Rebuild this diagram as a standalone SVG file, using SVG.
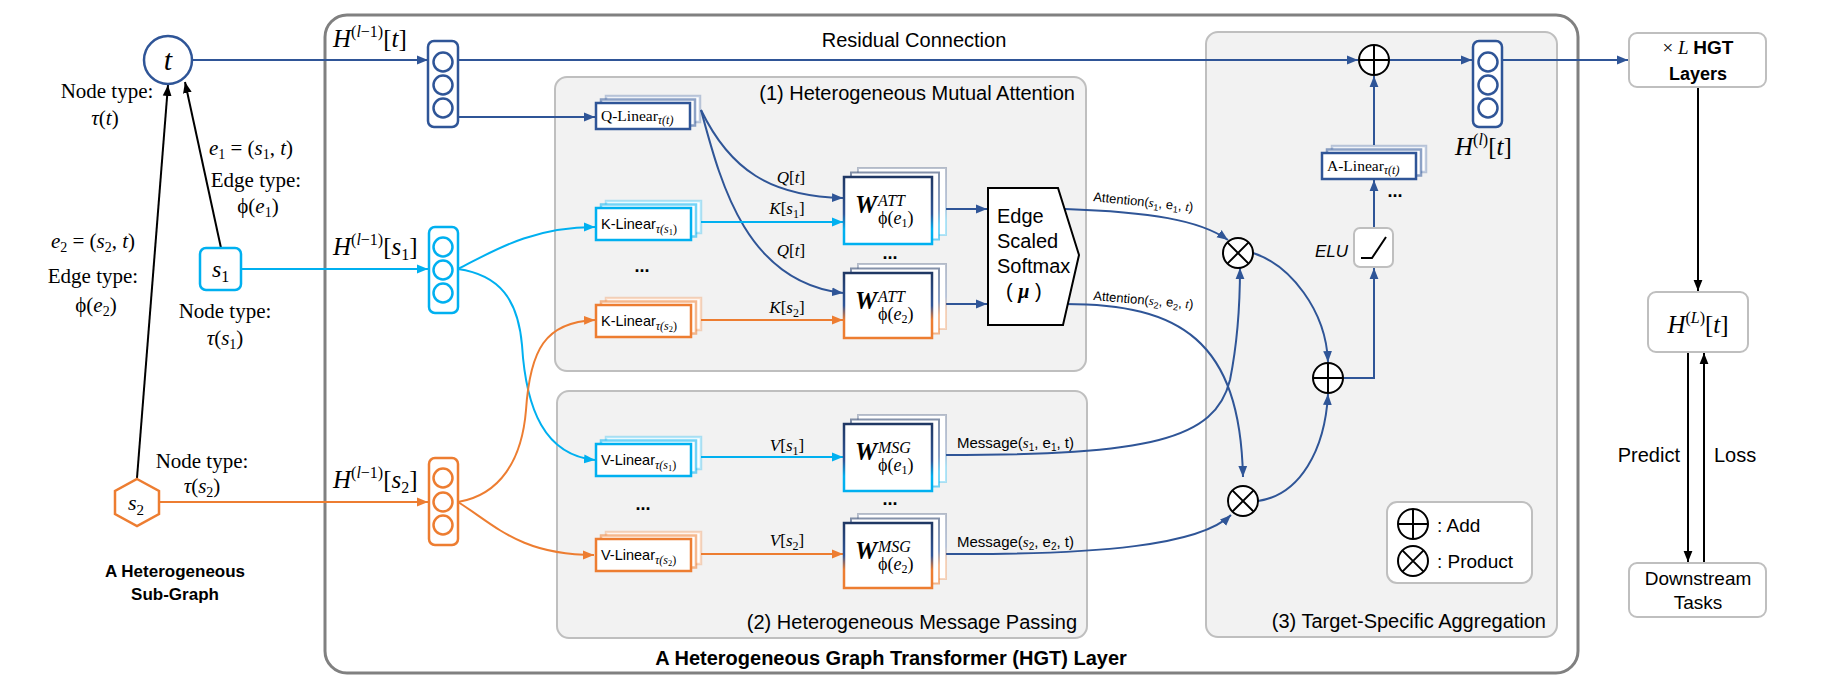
<svg xmlns="http://www.w3.org/2000/svg" width="1826" height="695" viewBox="0 0 1826 695">
<defs>
<style>
.sans{font-family:"Liberation Sans",Arial,sans-serif}
.serif{font-family:"Liberation Serif","Times New Roman",serif}
.it{font-style:italic}
.b{font-weight:bold}
.panel{fill:#f2f2f2;stroke:#bfbfbf;stroke-width:2}
.cb{fill:none;stroke:#2F5597;stroke-width:2}
.cc{fill:none;stroke:#00B0F0;stroke-width:2}
.co{fill:none;stroke:#ED7D31;stroke-width:2}
.ck{fill:none;stroke:#000;stroke-width:2}
.gbox{fill:#fff;stroke:#bfbfbf;stroke-width:2}
.op{fill:#fff;stroke:#000;stroke-width:2}
.vb{fill:#fff;stroke:#2F5597;stroke-width:2.5}
.vc{fill:#fff;stroke:#00B0F0;stroke-width:2.5}
.vo{fill:#fff;stroke:#ED7D31;stroke-width:2.5}
.bk1{stroke-opacity:.55}
.bk2{stroke-opacity:.3}
</style>
<marker id="ab" viewBox="0 0 10 10" refX="10" refY="5" markerWidth="11" markerHeight="11" markerUnits="userSpaceOnUse" orient="auto"><path d="M0,1 L10,5 L0,9 z" fill="#2F5597"/></marker>
<marker id="ac" viewBox="0 0 10 10" refX="10" refY="5" markerWidth="11" markerHeight="11" markerUnits="userSpaceOnUse" orient="auto"><path d="M0,1 L10,5 L0,9 z" fill="#00B0F0"/></marker>
<marker id="ao" viewBox="0 0 10 10" refX="10" refY="5" markerWidth="11" markerHeight="11" markerUnits="userSpaceOnUse" orient="auto"><path d="M0,1 L10,5 L0,9 z" fill="#ED7D31"/></marker>
<marker id="ak" viewBox="0 0 10 10" refX="10" refY="5" markerWidth="11" markerHeight="11" markerUnits="userSpaceOnUse" orient="auto"><path d="M0,1 L10,5 L0,9 z" fill="#000"/></marker>
<linearGradient id="gC" x1="0" y1="0" x2="0" y2="1"><stop offset="0" stop-color="#203864"/><stop offset="0.55" stop-color="#2F5597"/><stop offset="0.78" stop-color="#00B0F0"/><stop offset="1" stop-color="#00B0F0"/></linearGradient>
<linearGradient id="gO" x1="0" y1="0" x2="0" y2="1"><stop offset="0" stop-color="#203864"/><stop offset="0.5" stop-color="#2F5597"/><stop offset="0.72" stop-color="#ED7D31"/><stop offset="1" stop-color="#ED7D31"/></linearGradient>
</defs>
<rect width="1826" height="695" fill="#fff"/>

<g id="hgt-layer-frame">
<rect x="325" y="15" width="1253" height="658" rx="22" fill="#fff" stroke="#808080" stroke-width="3"/>
<text x="891" y="665" class="sans b" font-size="20" text-anchor="middle">A Heterogeneous Graph Transformer (HGT) Layer</text>
</g>
<g id="panel-attention">
<rect class="panel" x="555" y="77" width="531" height="294" rx="12"/>
<text x="1075" y="100" class="sans" font-size="20" text-anchor="end">(1) Heterogeneous Mutual Attention</text>
</g>
<g id="panel-message">
<rect class="panel" x="557" y="391" width="530" height="247" rx="12"/>
<text x="1077" y="629" class="sans" font-size="20" text-anchor="end">(2) Heterogeneous Message Passing</text>
</g>
<g id="panel-aggregation">
<rect class="panel" x="1206" y="32" width="351" height="605" rx="12"/>
<text x="1546" y="628" class="sans" font-size="20" text-anchor="end">(3) Target-Specific Aggregation</text>
</g>

<g id="connectors">
<path class="ck" d="M221,248 L185,82" marker-end="url(#ak)"/>
<path class="ck" d="M137,478 L168,85" marker-end="url(#ak)"/>
<path class="cb" d="M192,60 L428,60" marker-end="url(#ab)"/>
<path class="cc" d="M241,269 L428,269" marker-end="url(#ac)"/>
<path class="co" d="M160,502 L428,502" marker-end="url(#ao)"/>
<path class="cb" d="M458,60 L1358,60" marker-end="url(#ab)"/>
<path class="cb" d="M458,117 L595,117" marker-end="url(#ab)"/>
<path class="cc" d="M458,269 C492,252 530,227 595,227" marker-end="url(#ac)"/>
<path class="cc" d="M458,269 C500,275 518,300 522,345 C526,410 545,455 595,460" marker-end="url(#ac)"/>
<path class="co" d="M458,502 C500,495 522,460 526,410 C530,350 545,322 595,320" marker-end="url(#ao)"/>
<path class="co" d="M458,502 C495,525 520,555 594,555" marker-end="url(#ao)"/>
<path class="cb" d="M701,110 C730,170 770,196 843,198" marker-end="url(#ab)"/>
<path class="cb" d="M701,110 C720,180 745,282 843,293" marker-end="url(#ab)"/>
<path class="cc" d="M700,222 L843,222" marker-end="url(#ac)"/>
<path class="co" d="M700,320 L843,320" marker-end="url(#ao)"/>
<path class="cc" d="M700,457 L843,457" marker-end="url(#ac)"/>
<path class="co" d="M700,554 L843,554" marker-end="url(#ao)"/>
<path class="cb" d="M945,209 L987,209" marker-end="url(#ab)"/>
<path class="cb" d="M945,304 L987,304" marker-end="url(#ab)"/>
<path class="cb" d="M1065,209 C1150,212 1200,220 1228,240" marker-end="url(#ab)"/>
<path class="cb" d="M1065,304 C1180,304 1240,340 1243,477" marker-end="url(#ab)"/>
<path class="cb" d="M946,455 C1150,455 1215,440 1230,380 C1238,340 1240,300 1240,268" marker-end="url(#ab)"/>
<path class="cb" d="M946,554 C1100,555 1200,545 1231,515" marker-end="url(#ab)"/>
<path class="cb" d="M1253,253 C1290,265 1326,310 1328,362" marker-end="url(#ab)"/>
<path class="cb" d="M1258,501 C1300,495 1325,450 1328,394" marker-end="url(#ab)"/>
<path class="cb" d="M1343,378 L1374,378 L1374,268" marker-end="url(#ab)"/>
<path class="cb" d="M1374,228 L1374,180" marker-end="url(#ab)"/>
<path class="cb" d="M1374,145 L1374,76" marker-end="url(#ab)"/>
<path class="cb" d="M1389,60 L1472,60" marker-end="url(#ab)"/>
<path class="cb" d="M1502,60 L1628,60" marker-end="url(#ab)"/>
<path class="ck" d="M1698,87 L1698,291" marker-end="url(#ak)"/>
<path class="ck" d="M1688,352 L1688,562" marker-end="url(#ak)"/>
<path class="ck" d="M1704,563 L1704,353" marker-end="url(#ak)"/>
</g>

<g id="edge-labels">
<text x="251" y="155" class="serif" font-size="21" text-anchor="middle"><tspan class="it">e</tspan><tspan font-size="14" dy="4">1</tspan><tspan dy="-4"> = (</tspan><tspan class="it">s</tspan><tspan font-size="14" dy="4">1</tspan><tspan dy="-4">, </tspan><tspan class="it">t</tspan>)</text>
<text x="256" y="187" class="serif" font-size="21" text-anchor="middle">Edge type:</text>
<text x="258" y="213" class="serif" font-size="21" text-anchor="middle">ϕ(<tspan class="it">e</tspan><tspan font-size="14" dy="4">1</tspan><tspan dy="-4">)</tspan></text>
<text x="93" y="248" class="serif" font-size="21" text-anchor="middle"><tspan class="it">e</tspan><tspan font-size="14" dy="4">2</tspan><tspan dy="-4"> = (</tspan><tspan class="it">s</tspan><tspan font-size="14" dy="4">2</tspan><tspan dy="-4">, </tspan><tspan class="it">t</tspan>)</text>
<text x="93" y="283" class="serif" font-size="21" text-anchor="middle">Edge type:</text>
<text x="96" y="312" class="serif" font-size="21" text-anchor="middle">ϕ(<tspan class="it">e</tspan><tspan font-size="14" dy="4">2</tspan><tspan dy="-4">)</tspan></text>
</g>

<g id="node-t">
<circle cx="168" cy="60" r="24" fill="#fff" stroke="#2F5597" stroke-width="2.5"/>
<text x="168" y="70" class="serif it" font-size="30" text-anchor="middle">t</text>
<text x="107" y="98" class="serif" font-size="21" text-anchor="middle">Node type:</text>
<text x="105" y="125" class="serif" font-size="21" text-anchor="middle"><tspan class="it">τ</tspan>(<tspan class="it">t</tspan>)</text>
</g>
<g id="node-s1">
<rect x="200" y="248" width="41" height="42" rx="6" fill="#fff" stroke="#00B0F0" stroke-width="2.5"/>
<text x="212" y="277" class="serif" font-size="24"><tspan class="it">s</tspan><tspan font-size="16" dy="5">1</tspan></text>
<text x="225" y="318" class="serif" font-size="21" text-anchor="middle">Node type:</text>
<text x="225" y="345" class="serif" font-size="21" text-anchor="middle"><tspan class="it">τ</tspan>(<tspan class="it">s</tspan><tspan font-size="14" dy="4">1</tspan><tspan dy="-4">)</tspan></text>
</g>
<g id="node-s2">
<polygon points="137,479 159,491 159,514 137,526 115,514 115,491" fill="#fff" stroke="#ED7D31" stroke-width="2.5"/>
<text x="128" y="510" class="serif" font-size="22"><tspan class="it">s</tspan><tspan font-size="15" dy="5">2</tspan></text>
<text x="202" y="468" class="serif" font-size="21" text-anchor="middle">Node type:</text>
<text x="202" y="493" class="serif" font-size="21" text-anchor="middle"><tspan class="it">τ</tspan>(<tspan class="it">s</tspan><tspan font-size="14" dy="4">2</tspan><tspan dy="-4">)</tspan></text>
</g>
<g id="subgraph-caption">
<text x="175" y="577" class="sans b" font-size="17" text-anchor="middle">A Heterogeneous</text>
<text x="175" y="600" class="sans b" font-size="17" text-anchor="middle">Sub-Graph</text>
</g>

<g id="vec-t">
<rect class="vb" x="428" y="41" width="30" height="86" rx="6"/>
<circle class="vb" cx="443" cy="62" r="9.5" stroke-width="2"/><circle class="vb" cx="443" cy="85" r="9.5" stroke-width="2"/><circle class="vb" cx="443" cy="108" r="9.5" stroke-width="2"/>
<text x="333" y="47" class="serif" font-size="25"><tspan class="it">H</tspan><tspan font-size="16" dy="-10">(<tspan class="it">l</tspan>−1)</tspan><tspan dy="10">[<tspan class="it">t</tspan>]</tspan></text>
</g>
<g id="vec-s1">
<rect class="vc" x="429" y="227" width="29" height="86" rx="6"/>
<circle class="vc" cx="443" cy="247" r="9.5" stroke-width="2"/><circle class="vc" cx="443" cy="270" r="9.5" stroke-width="2"/><circle class="vc" cx="443" cy="293" r="9.5" stroke-width="2"/>
<text x="333" y="255" class="serif" font-size="25"><tspan class="it">H</tspan><tspan font-size="16" dy="-10">(<tspan class="it">l</tspan>−1)</tspan><tspan dy="10">[<tspan class="it">s</tspan></tspan><tspan font-size="16" dy="5">1</tspan><tspan dy="-5">]</tspan></text>
</g>
<g id="vec-s2">
<rect class="vo" x="429" y="458" width="29" height="87" rx="6"/>
<circle class="vo" cx="443" cy="478" r="9.5" stroke-width="2"/><circle class="vo" cx="443" cy="502" r="9.5" stroke-width="2"/><circle class="vo" cx="443" cy="525" r="9.5" stroke-width="2"/>
<text x="333" y="488" class="serif" font-size="25"><tspan class="it">H</tspan><tspan font-size="16" dy="-10">(<tspan class="it">l</tspan>−1)</tspan><tspan dy="10">[<tspan class="it">s</tspan></tspan><tspan font-size="16" dy="5">2</tspan><tspan dy="-5">]</tspan></text>
</g>

<g id="q-linear">
<rect class="vb bk2" x="606" y="96" width="94" height="26" stroke-width="2"/>
<rect class="vb bk1" x="601" y="99.5" width="94" height="26" stroke-width="2"/>
<rect class="vb" x="596" y="103" width="94" height="26"/>
<text x="601" y="121" class="serif" font-size="15.5">Q-Linear<tspan class="it" font-size="12" dy="3">τ(t)</tspan></text>
</g>
<g id="k-linear-s1">
<rect class="vc bk2" x="606" y="201" width="95" height="32" stroke-width="2"/>
<rect class="vc bk1" x="601" y="204.5" width="95" height="32" stroke-width="2"/>
<rect class="vc" x="596" y="208" width="95" height="32"/>
<text x="601" y="229" class="sans" font-size="14.5">K-Linear<tspan class="serif it" font-size="12" dy="4">τ(s</tspan><tspan class="serif" font-size="8.5" dy="2">1</tspan><tspan class="serif" font-size="12" dy="-2">)</tspan></text>
</g>
<text x="642" y="272" class="sans b" font-size="18" text-anchor="middle">...</text>
<g id="k-linear-s2">
<rect class="vo bk2" x="606" y="298" width="95" height="32" stroke-width="2"/>
<rect class="vo bk1" x="601" y="301.5" width="95" height="32" stroke-width="2"/>
<rect class="vo" x="596" y="305" width="95" height="32"/>
<text x="601" y="326" class="sans" font-size="14.5">K-Linear<tspan class="serif it" font-size="12" dy="4">τ(s</tspan><tspan class="serif" font-size="8.5" dy="2">2</tspan><tspan class="serif" font-size="12" dy="-2">)</tspan></text>
</g>
<g id="v-linear-s1">
<rect class="vc bk2" x="606" y="437" width="95" height="32" stroke-width="2"/>
<rect class="vc bk1" x="601" y="440.5" width="95" height="32" stroke-width="2"/>
<rect class="vc" x="596" y="444" width="95" height="32"/>
<text x="601" y="465" class="sans" font-size="14.5">V-Linear<tspan class="serif it" font-size="12" dy="4">τ(s</tspan><tspan class="serif" font-size="8.5" dy="2">1</tspan><tspan class="serif" font-size="12" dy="-2">)</tspan></text>
</g>
<text x="643" y="510" class="sans b" font-size="18" text-anchor="middle">...</text>
<g id="v-linear-s2">
<rect class="vo bk2" x="606" y="532" width="95" height="32" stroke-width="2"/>
<rect class="vo bk1" x="601" y="535.5" width="95" height="32" stroke-width="2"/>
<rect class="vo" x="596" y="539" width="95" height="32"/>
<text x="601" y="560" class="sans" font-size="14.5">V-Linear<tspan class="serif it" font-size="12" dy="4">τ(s</tspan><tspan class="serif" font-size="8.5" dy="2">2</tspan><tspan class="serif" font-size="12" dy="-2">)</tspan></text>
</g>

<g id="flow-labels" class="serif" font-size="17" text-anchor="middle">
<text x="791" y="183"><tspan class="it">Q</tspan>[<tspan class="it">t</tspan>]</text>
<text x="787" y="214"><tspan class="it">K</tspan>[<tspan class="it">s</tspan><tspan font-size="12" dy="4">1</tspan><tspan dy="-4">]</tspan></text>
<text x="791" y="256"><tspan class="it">Q</tspan>[<tspan class="it">t</tspan>]</text>
<text x="787" y="313"><tspan class="it">K</tspan>[<tspan class="it">s</tspan><tspan font-size="12" dy="4">2</tspan><tspan dy="-4">]</tspan></text>
<text x="787" y="451"><tspan class="it">V</tspan>[<tspan class="it">s</tspan><tspan font-size="12" dy="4">1</tspan><tspan dy="-4">]</tspan></text>
<text x="787" y="546"><tspan class="it">V</tspan>[<tspan class="it">s</tspan><tspan font-size="12" dy="4">2</tspan><tspan dy="-4">]</tspan></text>
</g>

<g id="w-att-e1">
<rect x="858" y="168" width="88" height="67" fill="#fff" stroke="url(#gC)" stroke-opacity=".3" stroke-width="2"/>
<rect x="851" y="172.5" width="88" height="67" fill="#fff" stroke="url(#gC)" stroke-opacity=".55" stroke-width="2"/>
<rect x="844" y="177" width="88" height="67" fill="#fff" stroke="url(#gC)" stroke-width="2.5"/>
<text x="855" y="213" class="serif b it" font-size="25">W</text>
<text x="878" y="206" class="serif it" font-size="16">ATT</text>
<text x="878" y="224" class="serif" font-size="18">ϕ(<tspan class="it">e</tspan><tspan font-size="12" dy="3">1</tspan><tspan dy="-3">)</tspan></text>
</g>
<text x="890" y="259" class="sans b" font-size="18" text-anchor="middle">...</text>
<g id="w-att-e2">
<rect x="858" y="264" width="88" height="65" fill="#fff" stroke="url(#gO)" stroke-opacity=".3" stroke-width="2"/>
<rect x="851" y="268.5" width="88" height="65" fill="#fff" stroke="url(#gO)" stroke-opacity=".55" stroke-width="2"/>
<rect x="844" y="273" width="88" height="65" fill="#fff" stroke="url(#gO)" stroke-width="2.5"/>
<text x="855" y="309" class="serif b it" font-size="25">W</text>
<text x="878" y="302" class="serif it" font-size="16">ATT</text>
<text x="878" y="320" class="serif" font-size="18">ϕ(<tspan class="it">e</tspan><tspan font-size="12" dy="3">2</tspan><tspan dy="-3">)</tspan></text>
</g>
<g id="w-msg-e1">
<rect x="858" y="415" width="88" height="67" fill="#fff" stroke="url(#gC)" stroke-opacity=".3" stroke-width="2"/>
<rect x="851" y="419.5" width="88" height="67" fill="#fff" stroke="url(#gC)" stroke-opacity=".55" stroke-width="2"/>
<rect x="844" y="424" width="88" height="67" fill="#fff" stroke="url(#gC)" stroke-width="2.5"/>
<text x="855" y="460" class="serif b it" font-size="25">W</text>
<text x="878" y="453" class="serif it" font-size="16">MSG</text>
<text x="878" y="471" class="serif" font-size="18">ϕ(<tspan class="it">e</tspan><tspan font-size="12" dy="3">1</tspan><tspan dy="-3">)</tspan></text>
</g>
<text x="890" y="505" class="sans b" font-size="18" text-anchor="middle">...</text>
<g id="w-msg-e2">
<rect x="858" y="514" width="88" height="65" fill="#fff" stroke="url(#gO)" stroke-opacity=".3" stroke-width="2"/>
<rect x="851" y="518.5" width="88" height="65" fill="#fff" stroke="url(#gO)" stroke-opacity=".55" stroke-width="2"/>
<rect x="844" y="523" width="88" height="65" fill="#fff" stroke="url(#gO)" stroke-width="2.5"/>
<text x="855" y="559" class="serif b it" font-size="25">W</text>
<text x="878" y="552" class="serif it" font-size="16">MSG</text>
<text x="878" y="570" class="serif" font-size="18">ϕ(<tspan class="it">e</tspan><tspan font-size="12" dy="3">2</tspan><tspan dy="-3">)</tspan></text>
</g>

<g id="softmax">
<polygon points="988,188 1058,188 1079,255 1063,325 988,325" fill="#fff" stroke="#000" stroke-width="2"/>
<text class="sans" font-size="20"><tspan x="997" y="223">Edge</tspan><tspan x="997" y="248">Scaled</tspan><tspan x="997" y="273">Softmax</tspan></text>
<text x="1006" y="298" class="sans" font-size="20">( <tspan class="serif b it">μ</tspan> )</text>
</g>

<g id="side-labels" class="sans">
<text x="1093" y="201" font-size="13" transform="rotate(6 1093 201)">Attention(<tspan class="serif it">s</tspan><tspan font-size="9" dy="3">1</tspan><tspan dy="-3">, e</tspan><tspan font-size="9" dy="3">1</tspan><tspan dy="-3">, </tspan><tspan class="serif it">t</tspan>)</text>
<text x="1093" y="300" font-size="13" transform="rotate(5 1093 300)">Attention(<tspan class="serif it">s</tspan><tspan font-size="9" dy="3">2</tspan><tspan dy="-3">, e</tspan><tspan font-size="9" dy="3">2</tspan><tspan dy="-3">, </tspan><tspan class="serif it">t</tspan>)</text>
<text x="957" y="448" font-size="15">Message(<tspan class="serif it">s</tspan><tspan font-size="10" dy="3">1</tspan><tspan dy="-3">, e</tspan><tspan font-size="10" dy="3">1</tspan><tspan dy="-3">, t)</tspan></text>
<text x="957" y="547" font-size="15">Message(<tspan class="serif it">s</tspan><tspan font-size="10" dy="3">2</tspan><tspan dy="-3">, e</tspan><tspan font-size="10" dy="3">2</tspan><tspan dy="-3">, t)</tspan></text>
<text x="914" y="47" font-size="20" text-anchor="middle">Residual Connection</text>
</g>

<g id="product-1">
<circle class="op" cx="1238" cy="253" r="15"/>
<path class="ck" d="M1227.4,242.4 L1248.6,263.6 M1248.6,242.4 L1227.4,263.6"/>
</g>
<g id="product-2">
<circle class="op" cx="1243" cy="501" r="15"/>
<path class="ck" d="M1232.4,490.4 L1253.6,511.6 M1253.6,490.4 L1232.4,511.6"/>
</g>
<g id="add-mid">
<circle class="op" cx="1328" cy="378" r="15"/>
<path class="ck" d="M1313,378 L1343,378 M1328,363 L1328,393"/>
</g>
<g id="add-top">
<circle class="op" cx="1374" cy="60" r="15"/>
<path class="ck" d="M1359,60 L1389,60 M1374,45 L1374,75"/>
</g>
<g id="elu">
<rect x="1354" y="228" width="39" height="39" rx="6" fill="#fff" stroke="#bfbfbf" stroke-width="2"/>
<polyline points="1361,258 1372,258 1386,237" fill="none" stroke="#000" stroke-width="2"/>
<text x="1315" y="257" class="sans it" font-size="17">ELU</text>
</g>
<g id="a-linear">
<rect class="vb bk2" x="1332" y="146" width="94" height="26" stroke-width="2"/>
<rect class="vb bk1" x="1327" y="149.5" width="94" height="26" stroke-width="2"/>
<rect class="vb" x="1322" y="153" width="94" height="26"/>
<text x="1327" y="171" class="serif" font-size="15.5">A-Linear<tspan class="it" font-size="12" dy="3">τ(t)</tspan></text>
</g>
<text x="1395" y="197" class="sans b" font-size="18" text-anchor="middle">...</text>
<g id="vec-out">
<rect class="vb" x="1473" y="41" width="29" height="86" rx="6"/>
<circle class="vb" cx="1488" cy="62" r="9.5" stroke-width="2"/><circle class="vb" cx="1488" cy="85" r="9.5" stroke-width="2"/><circle class="vb" cx="1488" cy="108" r="9.5" stroke-width="2"/>
<text x="1455" y="155" class="serif" font-size="25"><tspan class="it">H</tspan><tspan font-size="16" dy="-10">(<tspan class="it">l</tspan>)</tspan><tspan dy="10">[<tspan class="it">t</tspan>]</tspan></text>
</g>
<g id="legend">
<rect class="gbox" x="1387" y="502" width="145" height="81" rx="10"/>
<circle class="op" cx="1413" cy="524" r="15"/>
<path class="ck" d="M1398,524 L1428,524 M1413,509 L1413,539"/>
<circle class="op" cx="1413" cy="561" r="15"/>
<path class="ck" d="M1402.4,550.4 L1423.6,571.6 M1423.6,550.4 L1402.4,571.6"/>
<text x="1437" y="532" class="sans" font-size="19">: Add</text>
<text x="1437" y="568" class="sans" font-size="19">: Product</text>
</g>

<g id="layers-box">
<rect class="gbox" x="1629" y="33" width="137" height="54" rx="8"/>
<text x="1698" y="54" font-size="19" text-anchor="middle"><tspan class="serif">×</tspan> <tspan class="serif it">L</tspan> <tspan class="sans b">HGT</tspan></text>
<text x="1698" y="80" class="sans b" font-size="18" text-anchor="middle">Layers</text>
</g>
<g id="output-box">
<rect class="gbox" x="1648" y="292" width="100" height="60" rx="8"/>
<text x="1698" y="333" class="serif" font-size="25" text-anchor="middle"><tspan class="it">H</tspan><tspan font-size="16" dy="-10">(<tspan class="it">L</tspan>)</tspan><tspan dy="10">[<tspan class="it">t</tspan>]</tspan></text>
</g>
<g id="predict-loss-labels">
<text x="1680" y="462" class="sans" font-size="20" text-anchor="end">Predict</text>
<text x="1714" y="462" class="sans" font-size="20">Loss</text>
</g>
<g id="downstream-box">
<rect class="gbox" x="1629" y="563" width="137" height="54" rx="8"/>
<text x="1698" y="585" class="sans" font-size="19" text-anchor="middle">Downstream</text>
<text x="1698" y="609" class="sans" font-size="19" text-anchor="middle">Tasks</text>
</g>
</svg>
